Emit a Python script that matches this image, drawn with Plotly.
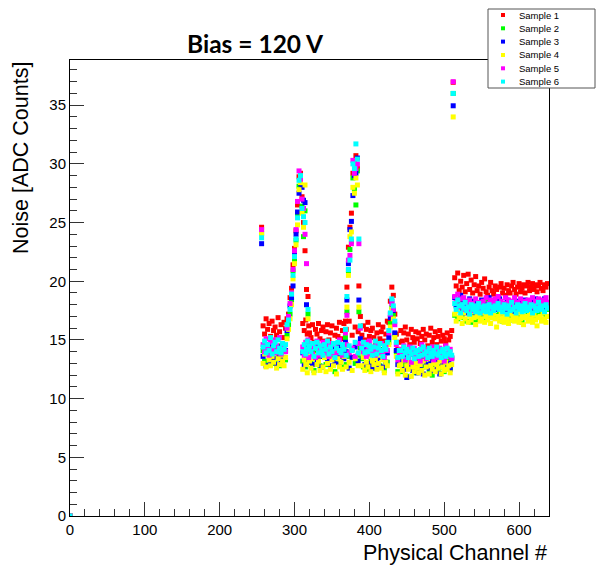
import plotly.graph_objects as go

# ---------------- data ----------------
samples = ["Sample 1", "Sample 2", "Sample 3", "Sample 4", "Sample 5", "Sample 6"]
colors = ["#ff0000", "#00ff00", "#0000ff", "#ffff00", "#ff00ff", "#00ffff"]

# channel numbers: origin, isolated ch 256, 258..510 every 2, isolated 512, 514..638 every 2
channels = [0, 256] + list(range(258, 511, 2)) + [512] + list(range(514, 639, 2))
# odd channels lying under the two large peaks (normal noise level)
extra_channels = [311, 313, 315, 317, 319, 369, 373, 377, 381, 385]

origin_val = [0.0, 0.0, 0.0, 0.0, 0.0, 0.0]
ch256_val = [24.6, 24.1, 23.2, 24.1, 24.4, 23.7]
ch512_val = [36.95, 36.0, 34.95, 34.0, 37.0, 36.0]

extra_s1 = [16.4, 15.8, 16.7, 15.5, 16.2, 15.9, 16.6, 15.4, 16.1, 15.7]
extra_s2 = [13.2, 14.1, 12.7, 13.8, 13.4, 12.9, 13.6, 14.2, 13.0, 13.7]
extra_s3 = [13.9, 12.8, 14.3, 13.1, 13.6, 14.0, 12.6, 13.5, 14.4, 13.2]
extra_s4 = [12.5, 13.3, 12.9, 12.2, 13.6, 12.7, 13.1, 12.4, 13.4, 12.8]
extra_s5 = [14.4, 13.7, 14.8, 14.0, 13.5, 14.6, 13.9, 14.3, 13.6, 14.7]
extra_s6 = [14.0, 14.6, 13.8, 14.9, 14.2, 13.7, 14.5, 14.1, 14.8, 13.9]

# low region ch 258..510 (127 values), high region ch 514..638 (63 values)
low_s1 = [16.2, 15.5, 16.8, 15.9, 16.4, 15.3, 16.6, 15.8, 16.1, 15.4, 16.9, 15.7, 16.3, 15.2, 16.5, 16.0,
          16.8, 17.2, 18.6, 19.4, 21.4, 22.8, 24.3, 26.5, 28.9, 29.2, 27.2, 25.0, 22.6, 19.3, 18.7, 15.6,
          15.2, 16.3, 14.8, 15.9, 15.5, 16.4, 15.1, 15.8, 16.1, 14.9, 15.7, 16.3, 15.0, 15.6, 16.2, 14.7,
          15.4, 16.0, 15.3, 16.5, 15.1, 15.8, 16.4,
          16.6, 19.5, 22.9, 24.6, 25.8, 29.2, 30.1, 30.7, 29.6, 19.6, 17.0,
          15.4, 16.2, 15.0, 15.9, 16.5, 15.3, 15.8, 16.0, 15.2, 14.8, 15.6, 16.3, 15.1, 15.7, 16.1, 14.9,
          15.5, 16.6,
          16.5, 18.3, 19.5, 18.8, 17.2, 15.5, 14.2, 14.8,
          15.8, 14.9, 15.6, 16.1, 15.0, 15.5, 14.6, 15.9, 15.2, 14.8, 15.7, 15.1, 15.6, 14.7, 15.3, 15.9,
          15.0, 15.5, 14.5, 15.4, 16.0, 14.8, 15.2, 15.7, 14.6, 15.3, 15.8, 14.9, 15.4, 15.1, 14.7, 15.6,
          15.0, 15.3, 15.8]
high_s1 = [20.3, 19.6, 20.7, 19.2, 20.0, 19.5, 20.5, 19.1, 19.8, 20.6,
           19.3, 20.1, 19.0, 19.7, 20.4, 19.2, 19.6, 18.9, 19.9, 19.4,
           20.2, 19.1, 18.8, 19.5, 19.9, 19.2, 18.9, 19.6, 19.3, 18.7,
           19.5, 19.8, 19.0, 19.4, 18.8, 19.7, 19.2, 19.0, 19.6, 19.9,
           19.3, 18.9, 19.5, 19.8, 19.1, 19.4, 19.7, 19.0, 19.6, 19.9,
           19.2, 19.5, 19.8, 19.3, 19.7, 19.1, 19.6, 19.9, 19.4, 19.2,
           19.7, 19.5, 19.8]

low_s2 = [14.1, 13.2, 14.6, 13.8, 12.9, 14.3, 13.5, 14.8, 13.0, 14.2, 13.7, 12.8, 14.5, 13.4, 14.0, 13.3,
          15.4, 16.3, 17.2, 18.4, 20.9, 21.8, 23.5, 25.7, 28.1, 28.6, 26.4, 23.8, 26.0, 13.5, 17.2, 13.9,
          13.1, 14.2, 12.4, 13.9, 14.6, 13.3, 12.8, 14.0, 13.6, 14.4, 12.9, 13.7, 14.3, 12.6, 13.5, 14.1,
          12.3, 13.8, 14.5, 13.0, 13.6, 12.7, 14.2,
          15.2, 17.4, 20.9, 22.7, 23.4, 28.8, 27.9, 26.5, 29.4, 17.4, 14.3,
          13.4, 12.7, 14.1, 13.8, 12.5, 14.5, 13.2, 13.9, 12.6, 14.3, 13.0, 13.6, 12.8, 14.2, 13.5, 12.4,
          13.9, 13.1,
          14.8, 16.4, 17.8, 17.1, 15.5, 14.0, 12.3, 13.2,
          13.6, 12.3, 14.2, 12.9, 13.5, 11.9, 13.8, 12.6, 14.0, 12.8, 12.2, 13.7, 13.1, 12.5, 13.9, 12.7,
          13.3, 12.8, 14.1, 12.4, 13.4, 12.0, 13.6, 12.9, 13.2, 12.5, 13.8, 12.7, 13.0, 12.3, 13.5, 12.9,
          13.2, 12.6, 13.4]
high_s2 = [17.1, 18.0, 16.8, 17.6, 18.3, 16.9, 17.4, 18.1, 16.6, 17.8,
           17.2, 16.5, 17.9, 17.0, 16.7, 17.5, 18.0, 16.9, 17.3, 17.7,
           16.8, 17.4, 18.2, 17.0, 17.6, 16.9, 17.3, 17.8, 17.1, 18.0,
           17.5, 17.2, 16.6, 17.7, 17.0, 17.9, 16.8, 17.4, 17.1, 16.7,
           17.6, 17.3, 16.9, 17.8, 17.2, 16.5, 17.5, 17.9, 17.0, 17.3,
           16.8, 17.6, 17.1, 17.4, 16.9, 17.7, 17.2, 17.5, 16.7, 17.8,
           17.3, 17.0, 17.6]

low_s3 = [13.6, 14.5, 12.8, 13.9, 14.2, 13.1, 14.7, 13.4, 14.0, 12.9, 14.4, 13.7, 13.2, 14.6, 13.5, 14.1,
          15.8, 16.9, 17.9, 18.6, 19.6, 22.4, 24.0, 25.9, 27.5, 28.3, 28.0, 26.9, 26.7, 18.0, 14.3, 13.8,
          14.0, 12.9, 13.7, 14.5, 13.2, 14.1, 13.6, 12.7, 14.3, 13.5, 14.0, 13.3, 14.6, 12.8, 13.9, 14.2,
          13.1, 13.8, 14.4, 12.9, 13.6, 14.1, 13.4,
          14.8, 18.4, 21.5, 24.4, 25.1, 27.3, 29.0, 29.2, 30.5, 18.4, 15.1,
          14.2, 13.6, 12.9, 14.4, 13.8, 13.0, 14.1, 12.6, 13.7, 14.3, 13.3, 12.8, 14.0, 13.5, 12.7, 14.2,
          13.1, 13.9,
          15.2, 16.9, 18.3, 17.5, 15.6, 14.1, 12.9, 13.4,
          13.2, 14.0, 12.5, 13.7, 11.8, 13.4, 12.9, 14.1, 12.4, 13.6, 13.0, 12.2, 13.8, 12.7, 13.3, 12.1,
          13.5, 12.9, 13.9, 12.6, 13.2, 14.0, 12.4, 13.7, 12.8, 13.3, 12.1, 13.6, 12.9, 13.4, 12.6, 13.8,
          13.0, 12.5, 13.5]
high_s3 = [18.6, 17.9, 18.4, 17.5, 18.8, 17.7, 18.2, 17.3, 18.0, 17.6,
           18.5, 17.4, 17.8, 18.3, 17.2, 17.9, 18.1, 17.5, 18.4, 17.7,
           17.3, 18.0, 17.8, 18.6, 17.4, 18.2, 17.9, 17.6, 18.3, 17.8,
           18.5, 17.9, 17.2, 18.1, 17.6, 18.4, 17.8, 17.5, 18.2, 17.9,
           17.4, 18.0, 18.3, 17.7, 17.5, 18.1, 17.8, 18.4, 17.6, 18.0,
           17.3, 18.2, 17.9, 17.7, 18.5, 17.8, 18.1, 17.6, 18.3, 17.9,
           18.5, 17.8, 18.2]

low_s4 = [13.0, 13.8, 12.7, 14.0, 13.3, 12.8, 13.6, 13.1, 13.9, 12.6, 13.4, 12.9, 13.7, 13.2, 12.8, 13.5,
          15.1, 15.9, 16.8, 18.0, 20.2, 21.5, 23.1, 24.8, 27.8, 28.4, 25.8, 24.6, 28.2, 12.9, 16.8, 13.2,
          12.6, 13.4, 12.2, 13.7, 12.9, 13.2, 12.4, 13.8, 12.7, 13.5, 12.3, 13.0, 13.6, 12.5, 13.3, 12.8,
          13.9, 12.1, 13.4, 12.7, 13.1, 12.5, 13.6,
          14.5, 17.8, 20.5, 23.8, 24.2, 28.0, 27.5, 28.8, 28.2, 17.8, 13.9,
          12.8, 13.5, 12.4, 13.1, 12.7, 13.6, 12.3, 13.2, 12.9, 13.4, 12.5, 13.0, 13.7, 12.6, 13.3, 12.2,
          13.1, 12.8,
          14.6, 16.1, 17.6, 16.8, 15.2, 13.6, 12.1, 12.8,
          12.9, 12.4, 13.3, 12.0, 12.8, 12.5, 13.1, 11.9, 12.7, 12.3, 13.0, 12.6, 12.2, 12.9, 12.4, 13.2,
          12.0, 12.7, 13.4, 12.1, 12.8, 12.5, 13.0, 12.3, 12.9, 12.6, 13.2, 12.1, 12.7, 12.4, 13.1, 12.5,
          12.8, 12.2, 12.9]
high_s4 = [17.2, 16.6, 17.5, 16.9, 17.0, 16.4, 17.3, 16.8, 17.6, 16.5,
           17.1, 16.7, 17.4, 16.9, 16.3, 17.0, 17.2, 16.6, 16.8, 17.3,
           16.5, 17.0, 16.7, 17.1, 16.4, 16.9, 17.2, 16.8, 16.1, 17.0,
           16.6, 17.3, 16.9, 16.5, 17.1, 16.8, 16.4, 17.2, 16.7, 17.0,
           16.6, 16.9, 17.3, 16.5, 16.8, 17.1, 16.3, 16.9, 17.0, 16.6,
           17.2, 16.8, 16.5, 17.1, 16.7, 16.2, 16.9, 17.0, 16.6, 17.3,
           16.8, 16.5, 17.0]

low_s5 = [14.6, 14.0, 15.1, 14.3, 13.7, 14.8, 14.2, 15.0, 13.9, 14.5, 14.1, 15.2, 13.8, 14.7, 14.4, 14.0,
          16.0, 17.0, 18.1, 19.0, 21.0, 22.6, 24.4, 26.8, 29.4, 28.7, 27.0, 26.2, 24.0, 21.5, 15.0, 14.6,
          14.3, 13.8, 14.6, 13.5, 14.9, 14.1, 13.7, 14.4, 14.8, 13.9, 14.5, 14.2, 13.6, 14.7, 14.0, 13.8,
          14.6, 14.3, 13.9, 15.0, 14.1, 13.7, 14.5,
          15.6, 17.1, 21.8, 22.2, 23.2, 30.3, 29.2, 29.6, 30.0, 23.2, 16.0,
          14.5, 14.0, 14.8, 13.6, 14.3, 14.9, 13.8, 14.4, 14.1, 13.7, 14.6, 14.2, 13.9, 14.7, 14.0, 13.5,
          14.4, 14.1,
          15.6, 17.2, 18.1, 17.6, 16.3, 14.6, 13.3, 13.9,
          14.2, 13.7, 14.5, 13.3, 14.0, 13.6, 14.4, 13.1, 13.9, 14.3, 13.5, 14.1, 13.8, 13.2, 14.6, 13.7,
          14.0, 13.4, 14.2, 13.6, 13.9, 14.4, 13.3, 14.1, 13.7, 13.5, 14.3, 13.8, 14.0, 13.2, 14.5, 13.6,
          13.9, 14.2, 13.4]
high_s5 = [18.7, 18.2, 18.9, 17.8, 18.5, 18.0, 18.6, 17.6, 18.3, 17.9,
           18.4, 17.5, 18.1, 17.7, 18.5, 17.8, 18.2, 17.4, 18.0, 18.3,
           17.7, 18.6, 17.9, 18.1, 18.4, 17.6, 18.2, 18.5, 17.9, 18.7,
           18.0, 18.3, 17.8, 18.1, 18.6, 17.7, 18.4, 18.0, 17.9, 18.3,
           18.6, 17.8, 18.2, 18.0, 18.5, 17.7, 18.3, 18.1, 17.9, 18.4,
           18.2, 17.8, 18.6, 18.0, 18.3, 17.9, 18.5, 18.1, 17.8, 18.4,
           18.0, 18.6, 18.2]

low_s6 = [14.4, 14.9, 13.9, 14.6, 14.1, 15.2, 13.8, 14.5, 14.8, 14.0, 15.0, 14.3, 13.9, 14.7, 14.2, 14.6,
          16.3, 16.7, 17.6, 18.9, 20.5, 22.1, 23.6, 25.4, 28.6, 29.0, 26.2, 25.5, 25.0, 14.2, 17.6, 14.5,
          14.0, 14.7, 13.6, 14.3, 14.8, 13.9, 14.5, 14.1, 13.7, 14.6, 14.2, 14.9, 13.8, 14.4, 14.0, 14.7,
          13.5, 14.3, 14.8, 14.1, 13.9, 14.6, 14.2,
          15.9, 18.7, 21.0, 21.8, 23.6, 30.0, 29.6, 31.7, 30.4, 23.6, 16.2,
          14.3, 14.8, 13.9, 14.6, 14.0, 14.5, 14.2, 13.7, 14.4, 14.9, 13.8, 14.3, 14.7, 14.1, 13.6, 14.5,
          14.2, 14.8,
          15.8, 17.3, 18.5, 17.9, 16.6, 14.8, 13.5, 14.1,
          14.1, 13.6, 14.4, 13.9, 14.2, 13.5, 14.0, 13.8, 14.3, 13.4, 13.9, 14.1, 13.6, 14.2, 13.7, 14.4,
          13.8, 14.0, 13.5, 14.3, 13.9, 13.6, 14.1, 13.8, 14.4, 13.7, 14.0, 13.5, 14.2, 13.9, 13.6, 14.3,
          13.8, 14.0, 13.7]
high_s6 = [18.1, 17.6, 18.4, 17.9, 17.3, 18.0, 17.7, 18.2, 17.5, 17.8,
           17.2, 18.0, 17.6, 17.9, 17.4, 17.7, 18.1, 17.3, 17.8, 17.5,
           17.9, 17.4, 17.6, 18.0, 17.3, 17.8, 17.5, 17.9, 17.7, 18.1,
           17.6, 17.8, 17.4, 18.0, 17.7, 17.2, 17.9, 17.5, 18.2, 17.6,
           17.8, 17.3, 18.0, 17.6, 17.9, 17.4, 17.7, 18.1, 17.5, 17.8,
           17.6, 18.0, 17.3, 17.9, 17.7, 17.5, 18.2, 17.8, 17.6, 17.9,
           17.4, 18.0, 17.7]

low_all = [low_s1, low_s2, low_s3, low_s4, low_s5, low_s6]
high_all = [high_s1, high_s2, high_s3, high_s4, high_s5, high_s6]
extra_all = [extra_s1, extra_s2, extra_s3, extra_s4, extra_s5, extra_s6]

x_ticks = [0, 100, 200, 300, 400, 500, 600]
y_ticks = [0, 5, 10, 15, 20, 25, 30, 35]

title_text = "Bias = 120 V"
x_title = "Physical Channel #"
y_title = "Noise [ADC Counts]"

# ---------------- layout geometry ----------------
W, H = 597, 566
L, R, T, B = 70, 48, 60, 50
PW, PH = W - L - R, H - T - B


def px(p):
    return (p - L) / PW


def py(p):
    return (H - B - p) / PH


fig = go.Figure()
for i in range(6):
    yv = [origin_val[i], ch256_val[i]] + low_all[i] + [ch512_val[i]] + high_all[i]
    n = min(len(yv), len(channels))
    xs = channels[:n] + extra_channels
    ys = yv[:n] + extra_all[i]
    fig.add_trace(go.Scatter(
        x=xs, y=ys, mode="markers", name=samples[i],
        marker=dict(symbol="square", size=5, color=colors[i], line=dict(width=0)),
        showlegend=False,
    ))

axis_common = dict(
    showgrid=False, zeroline=False, showline=True, linecolor="black", linewidth=1,
    mirror=True, ticks="inside", ticklen=14, tickwidth=1, tickcolor="#333",
    tickfont=dict(family="Liberation Sans, Arial, sans-serif", size=15, color="black"),
)

fig.update_xaxes(range=[0, 640], tickvals=x_ticks, ticktext=[str(v) for v in x_ticks],
                 minor=dict(dtick=20, ticklen=7, ticks="inside", tickcolor="#333"),
                 **axis_common)
fig.update_yaxes(range=[0, 38.85], tickvals=y_ticks, ticktext=[str(v) for v in y_ticks],
                 minor=dict(dtick=1, ticklen=7, ticks="inside", tickcolor="#333"),
                 **axis_common)

annotations = [
    dict(text="<b>" + title_text + "</b>", x=px(255), y=py(44), xref="paper", yref="paper",
         xanchor="center", yanchor="middle", showarrow=False,
         font=dict(family="Lato, Liberation Sans, sans-serif", size=24.5, color="black")),
    dict(text=x_title, x=1.0, y=py(553), xref="paper", yref="paper",
         xanchor="right", yanchor="middle", showarrow=False,
         font=dict(family="Liberation Sans, Arial, sans-serif", size=21.5, color="black")),
    dict(text=y_title, x=px(21), y=1.0, xref="paper", yref="paper", textangle=-90,
         xanchor="center", yanchor="top", showarrow=False,
         font=dict(family="Liberation Sans, Arial, sans-serif", size=21.5, color="black")),
]

shapes = [
    dict(type="rect", xref="paper", yref="paper", x0=px(488), x1=px(595), y0=py(88), y1=py(9),
         line=dict(color="#555", width=1), fillcolor="white", layer="above"),
]
row_y = [15, 28.3, 41.6, 55, 68.3, 81.6]
for i in range(6):
    shapes.append(dict(type="rect", xref="paper", yref="paper",
                       x0=px(501), x1=px(505), y0=py(row_y[i] + 2), y1=py(row_y[i] - 2),
                       line=dict(width=0), fillcolor=colors[i], layer="above"))
    annotations.append(dict(text=samples[i], x=px(516.5), y=py(row_y[i]), xref="paper", yref="paper",
                            xanchor="left", yanchor="middle", showarrow=False,
                            font=dict(family="Liberation Sans, Arial, sans-serif", size=9.5,
                                      color="black")))

fig.update_layout(
    width=W, height=H, margin=dict(l=L, r=R, t=T, b=B, pad=0),
    paper_bgcolor="white", plot_bgcolor="white",
    showlegend=False, annotations=annotations, shapes=shapes,
)

fig.write_html("out.html")
